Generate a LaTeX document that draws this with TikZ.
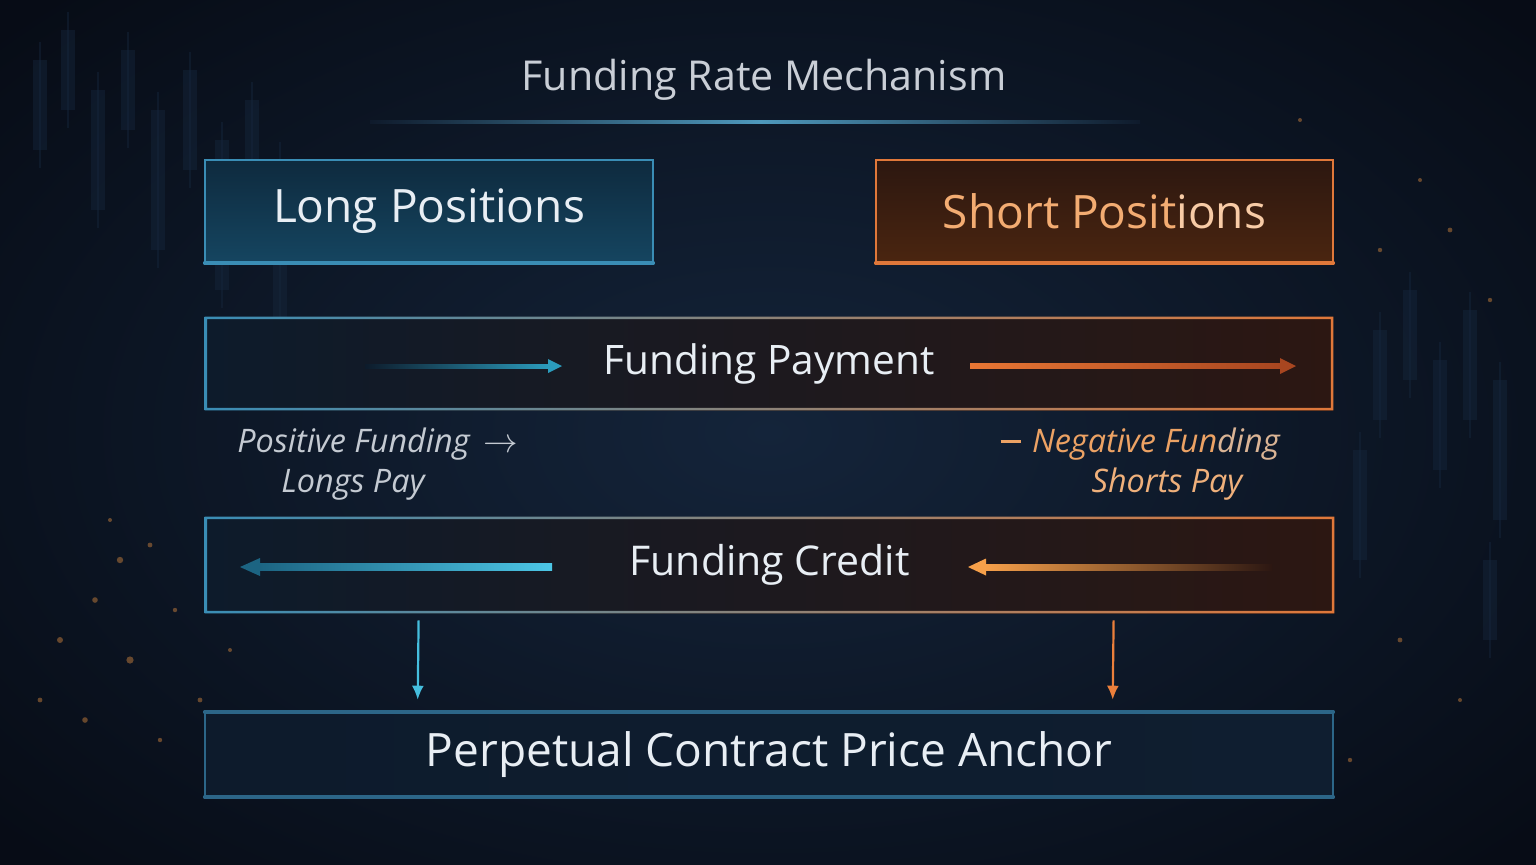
\documentclass[tikz,border=0pt]{standalone}
\usepackage{fontspec}
\setmainfont{Open Sans}
\usetikzlibrary{arrows.meta,calc}
\definecolor{bgC}{HTML}{14243A}
\definecolor{bgE}{HTML}{070C16}
\definecolor{candle}{HTML}{16273D}
\definecolor{blueB}{HTML}{3A8DB5}
\definecolor{blueDim}{HTML}{2C6688}
\definecolor{blueGlow}{HTML}{6FDCFA}
\definecolor{orangeB}{HTML}{E0783A}
\definecolor{orangeGlow}{HTML}{FFB060}
\definecolor{txtW}{HTML}{E8EEF4}
\definecolor{txtGray}{HTML}{C9CED6}
\definecolor{lblGray}{HTML}{C4CAD2}
\definecolor{lblOrange}{HTML}{ECA264}
\definecolor{shortTxt}{HTML}{F3AC72}
\definecolor{shortTxtB}{HTML}{F8CBA6}
\definecolor{longT}{HTML}{0E2A3E}
\definecolor{longBt}{HTML}{154560}
\definecolor{shortT}{HTML}{2C1710}
\definecolor{shortBt}{HTML}{4A2510}
\definecolor{payL}{HTML}{0D1B2B}
\definecolor{payR}{HTML}{2C1712}
\definecolor{ancL}{HTML}{0D1B2C}
\definecolor{ancR}{HTML}{0F1E30}
\definecolor{arBlue}{HTML}{2B9CBD}
\definecolor{arBlueBright}{HTML}{4CC6E6}
\definecolor{arBlueDark}{HTML}{1C6482}
\definecolor{arOrange}{HTML}{E87634}
\definecolor{arOrangeDark}{HTML}{A84620}
\definecolor{arOrangeBright}{HTML}{F7A04A}
\definecolor{dot}{HTML}{D98A40}
\tikzset{
  boxtext/.style={font=\fontsize{22}{26}\selectfont, text=txtW, inner sep=0pt},
  label/.style={font=\fontsize{16.2}{19}\selectfont\itshape, inner sep=0pt},
  downarrow/.style={line width=1.1pt, -{Latex[length=7pt,width=6pt]}},
}
\newcommand\gframe[3]{%
  \shade[left color=#2, right color=#3, even odd rule]
    (#1.north west) rectangle (#1.south east)
    ($(#1.north west)+(2.6,2.6)$) rectangle ($(#1.south east)+(-2.6,-2.6)$);}
\newcommand\edgeglow[4]{%
  \shade[left color=#4, middle color=#3, right color=#4]
    ($(#1)+(0,-1.6)$) rectangle ($(#2)+(0,1.6)$);}
\begin{document}
\begin{tikzpicture}[x=0.5pt,y=-0.5pt]
\useasboundingbox (0,0) rectangle (1536,864);
\begin{scope}
\clip (0,0) rectangle (1536,864);
% background
\shade[inner color=bgC, outer color=bgE] (-250,-180) rectangle (1786,1044);
% faint candles
\foreach \x/\a/\b in {40/60/150, 68/30/110, 98/90/210, 128/50/130, 158/110/250, 190/70/170, 222/140/290, 252/100/200, 280/160/320,
  1380/330/420, 1410/290/380, 1440/360/470, 1470/310/420, 1500/380/520, 1360/450/560, 1490/560/640}
{ \fill[candle, opacity=0.45] (\x-7,\a) rectangle (\x+7,\b);
  \draw[candle, opacity=0.45, line width=0.8pt] (\x,\a-18) -- (\x,\b+18); }
% bokeh dots
\foreach \x/\y/\r in {120/560/1.6, 150/545/1.2, 95/600/1.4, 175/610/1.1, 60/640/1.5, 130/660/1.8, 200/700/1.2, 85/720/1.4,
  160/740/1.1, 40/700/1.2, 230/650/1.0, 110/520/1.0, 1330/200/1.3, 1380/250/1.1, 1420/180/1.0, 1450/230/1.2,
  1300/120/1.0, 1490/300/1.1, 1400/640/1.2, 1460/700/1.0, 1350/760/1.1}
{ \fill[dot, opacity=0.45] (\x,\y) circle (\r pt); }
\end{scope}

% title
\node[font=\fontsize{20.6}{25}\selectfont, text=txtGray, inner sep=0pt] (title) at (764,80) {Funding Rate Mechanism};
\coordinate (ulA) at (370,122);
\coordinate (ulM) at (760,122);
\coordinate (ulB) at (1140,122);
\shade[left color=bgC!60!bgE, right color=blueB!90!white] ($(ulA)+(0,-1.2)$) rectangle ($(ulM)+(0,1.2)$);
\shade[left color=blueB!90!white, right color=bgC!60!bgE] ($(ulM)+(0,-1.2)$) rectangle ($(ulB)+(0,1.2)$);

% top boxes
\node[boxtext, font=\fontsize{23}{27}\selectfont, minimum width=224pt, minimum height=51pt, top color=longT, bottom color=longBt,
  draw=blueB, line width=1.3pt] (long) at (429,211) {Long Positions};
\edgeglow{long.south west}{long.south east}{blueGlow}{blueB}
\node[boxtext, font=\fontsize{23}{27}\selectfont, text=shortTxt, minimum width=228.5pt, minimum height=51pt, top color=shortT, bottom color=shortBt,
  draw=orangeB, line width=1.3pt] (short) at (1104.5,211) {Short Posit\textcolor{shortTxtB}{ions}};
\edgeglow{short.south west}{short.south east}{orangeGlow}{orangeB}

% funding payment
\node[boxtext, font=\fontsize{20.3}{24}\selectfont, minimum width=564pt, minimum height=46.5pt, left color=payL, right color=payR] (pay) at (769,363.5) {Funding Payment};
\gframe{pay}{blueB}{orangeB}
\coordinate (pbS) at (365,366);
\coordinate (pbE) at (562,366);
\shade[left color=payL, right color=arBlue] ($(pbS)+(0,-2)$) rectangle ($(pbE)+(-13,2)$);
\fill[arBlue] ($(pbE)+(-14,-7)$) -- (pbE) -- ($(pbE)+(-14,7)$) -- cycle;
\coordinate (poS) at (970,366);
\coordinate (poE) at (1296,366);
\shade[left color=arOrange, right color=arOrangeDark] ($(poS)+(0,-2.2)$) rectangle ($(poE)+(-15,2.2)$);
\fill[arOrangeDark] ($(poE)+(-16,-8)$) -- (poE) -- ($(poE)+(-16,8)$) -- cycle;

% labels
\node[label, text=lblGray, anchor=base west] (posA) at (237,452) {Positive Funding \,$\rightarrow$};
\node[label, text=lblGray, anchor=base] (posB) at (353,492) {Longs Pay};
\node[label, text=lblOrange, anchor=base east] (negA) at (1280,452) {{\upshape\rule[0.29em]{0.62em}{0.075em}}\hspace{0.35em}Negative Fun\textcolor{lblOrange!55!lblGray}{ding}};
\node[label, text=lblOrange!85!white, anchor=base] (negB) at (1167,492) {Shorts Pay};

% funding credit
\node[boxtext, font=\fontsize{20.5}{24}\selectfont, minimum width=564.5pt, minimum height=48pt, left color=payL, right color=payR] (credit) at (769.5,565) {Funding Credit};
\gframe{credit}{blueB}{orangeB}
\coordinate (cbS) at (552,567);
\coordinate (cbE) at (240,567);
\shade[left color=arBlueDark, right color=arBlueBright] ($(cbE)+(18,-3.2)$) rectangle ($(cbS)+(0,3.2)$);
\fill[arBlueDark] ($(cbE)+(20,-9)$) -- (cbE) -- ($(cbE)+(20,9)$) -- cycle;
\coordinate (coS) at (1272,567);
\coordinate (coE) at (968,567);
\shade[left color=arOrangeBright, right color=payR] ($(coE)+(16,-3)$) rectangle ($(coS)+(0,3)$);
\fill[arOrangeBright] ($(coE)+(18,-8.5)$) -- (coE) -- ($(coE)+(18,8.5)$) -- cycle;

% anchor
\node[boxtext, font=\fontsize{23}{27}\selectfont, minimum width=564pt, minimum height=41.5pt, left color=ancL, right color=ancR,
  draw=blueDim, line width=1.3pt] (anchor) at (769,754.5) {Perpetual Contract Price Anchor};
\edgeglow{anchor.north west}{anchor.north east}{blueB}{blueDim}
\edgeglow{anchor.south west}{anchor.south east}{blueB}{blueDim}

% down connectors
\draw[downarrow, arBlueBright!80!arBlue] ($(credit.south west)+(214,7)$) -- ($(anchor.north west)+(214,-12)$);
\draw[downarrow, arOrange!85!orangeGlow] ($(credit.south west)+(909,7)$) -- ($(anchor.north west)+(909,-12)$);
\end{tikzpicture}
\end{document}
